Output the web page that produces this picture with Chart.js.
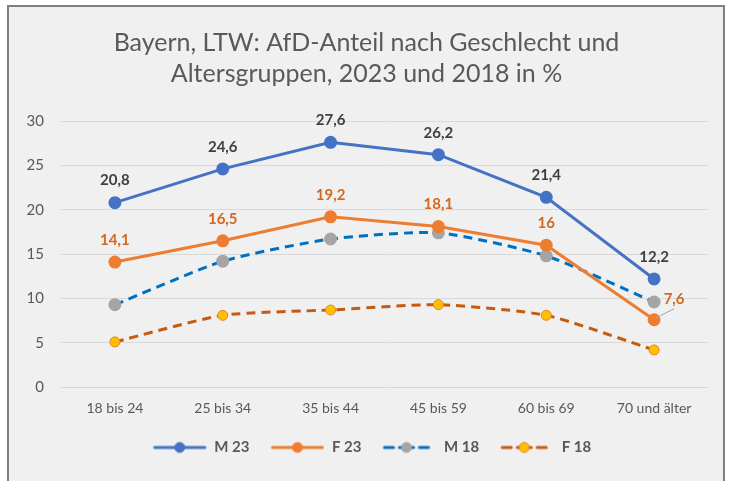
<!DOCTYPE html>
<html>
<head>
<meta charset="utf-8">
<script src="https://cdn.jsdelivr.net/npm/chart.js@4"></script>
<style>
    html, body { margin: 0; padding: 0; background: #ffffff; }
    #wrap { width: 731px; height: 481px; position: relative; }
</style>
</head>
<body>
<div id="wrap"><canvas id="chart"></canvas></div>
<script>
'use strict';

const categories = ['18 bis 24', '25 bis 34', '35 bis 44', '45 bis 59', '60 bis 69', '70 und älter'];

const m23 = [20.8, 24.6, 27.6, 26.2, 21.4, 12.2];
const f23 = [14.1, 16.5, 19.2, 18.1, 16, 7.6];
const m18 = [9.3, 14.2, 16.7, 17.4, 14.8, 9.6];
const f18 = [5.1, 8.1, 8.7, 9.3, 8.1, 4.2];

const seriesNames = ['M 23', 'F 23', 'M 18', 'F 18'];
const yTicks = [0, 5, 10, 15, 20, 25, 30];

const FONT = 'Lato, "Open Sans", sans-serif';
const GREY = '#595959';

// legend symbol box: gap on the left + line/marker part
const SYM_GAP = 11;
const SYM_W = 54;

/**
 * Small canvas with a line and a marker, used as legend symbol.
 */
function legendSymbol(lineColor, fill, border, dashed) {

    const c = document.createElement('canvas');
    c.width = SYM_GAP + SYM_W;
    c.height = 14;
    const ctx = c.getContext('2d');
    const x0 = SYM_GAP;

    ctx.strokeStyle = lineColor;
    ctx.lineWidth = 3;
    ctx.lineCap = 'round';

    let cx;

    if (dashed) {
        cx = x0 + 24;
        ctx.beginPath();
        ctx.moveTo(x0 + 2, 7); ctx.lineTo(x0 + 11, 7);
        ctx.moveTo(x0 + 17, 7); ctx.lineTo(x0 + 19, 7);
        ctx.moveTo(x0 + 29, 7); ctx.lineTo(x0 + 31, 7);
        ctx.moveTo(x0 + 37, 7); ctx.lineTo(x0 + 46, 7);
        ctx.stroke();
    } else {
        cx = x0 + 27;
        ctx.beginPath();
        ctx.moveTo(x0 + 2, 7); ctx.lineTo(x0 + 52, 7);
        ctx.stroke();
    }

    ctx.beginPath();
    ctx.arc(cx, 7, 5, 0, Math.PI * 2);
    ctx.fillStyle = fill;
    ctx.fill();
    ctx.lineWidth = 1;
    ctx.strokeStyle = border;
    ctx.stroke();

    return c;
}

const symbols = [
    legendSymbol('#4472C4', '#4472C4', '#4472C4', false),
    legendSymbol('#ED7D31', '#ED7D31', '#ED7D31', false),
    legendSymbol('#0070C0', '#A5A5A5', '#A5A5A5', true),
    legendSymbol('#C55A11', '#FFC000', '#ED7D31', true)
];

const frame = {
    id: 'frame',
    beforeDraw(chart) {
        const ctx = chart.ctx;
        ctx.save();
        ctx.fillStyle = '#ffffff';
        ctx.fillRect(0, 0, chart.width, chart.height);
        ctx.fillStyle = '#f0f0f0';
        ctx.fillRect(8, 6, 716, chart.height);
        ctx.strokeStyle = '#7f7f7f';
        ctx.lineWidth = 2;
        ctx.beginPath();
        ctx.moveTo(8, chart.height);
        ctx.lineTo(8, 6);
        ctx.lineTo(724, 6);
        ctx.lineTo(724, chart.height);
        ctx.stroke();
        ctx.restore();
    }
};

const valueLabels = {
    id: 'valueLabels',
    afterDatasetsDraw(chart) {
        const ctx = chart.ctx;
        const colors = ['#404040', '#D2691E'];
        ctx.save();
        ctx.font = 'bold 15px ' + FONT;
        ctx.textAlign = 'center';
        ctx.textBaseline = 'middle';
        [0, 1].forEach(di => {
            const meta = chart.getDatasetMeta(di);
            const values = chart.data.datasets[di].data;
            meta.data.forEach((pt, i) => {
                const text = String(values[i]).replace('.', ',');
                ctx.fillStyle = colors[di];
                if (di === 1 && i === values.length - 1) {
                    // label pushed aside with a leader line
                    ctx.strokeStyle = '#a6a6a6';
                    ctx.lineWidth = 1;
                    ctx.beginPath();
                    ctx.moveTo(pt.x + 2, pt.y - 2);
                    ctx.lineTo(pt.x + 20, pt.y - 11);
                    ctx.stroke();
                    ctx.fillText(text, pt.x + 20, pt.y - 21);
                    return;
                }
                ctx.fillText(text, pt.x, pt.y - 22);
            });
        });
        ctx.restore();
    }
};

new Chart(document.getElementById('chart'), {

    type: 'line',

    data: {

        labels: categories,

        datasets: [
            {
                label: seriesNames[0],
                data: m23,
                borderColor: '#4472C4',
                backgroundColor: '#4472C4',
                borderWidth: 3,
                pointRadius: 5,
                pointBackgroundColor: '#4472C4',
                pointBorderColor: '#4472C4',
                tension: 0
            },
            {
                label: seriesNames[1],
                data: f23,
                borderColor: '#ED7D31',
                backgroundColor: '#ED7D31',
                borderWidth: 3,
                pointRadius: 5,
                pointBackgroundColor: '#ED7D31',
                pointBorderColor: '#ED7D31',
                tension: 0
            },
            {
                label: seriesNames[2],
                data: m18,
                borderColor: '#0070C0',
                backgroundColor: '#A5A5A5',
                borderWidth: 3,
                borderDash: [9, 6],
                pointRadius: 5,
                pointBackgroundColor: '#A5A5A5',
                pointBorderColor: '#A5A5A5',
                tension: 0.2
            },
            {
                label: seriesNames[3],
                data: f18,
                borderColor: '#C55A11',
                backgroundColor: '#FFC000',
                borderWidth: 3,
                borderDash: [9, 6],
                pointRadius: 5,
                pointBackgroundColor: '#FFC000',
                pointBorderColor: '#ED7D31',
                pointBorderWidth: 1,
                tension: 0.2
            }
        ]

    },

    options: {

        responsive: true,
        maintainAspectRatio: false,
        animation: false,
        devicePixelRatio: 1,

        layout: {
            padding: { left: 25, right: 23, top: 0, bottom: 16 }
        },

        plugins: {

            title: {
                display: true,
                text: ['Bayern, LTW: AfD-Anteil nach Geschlecht und', 'Altersgruppen, 2023 und 2018 in %'],
                color: GREY,
                font: { family: FONT, size: 25, weight: 'normal', lineHeight: 1.24 },
                padding: { top: 27, bottom: 32 }
            },

            legend: {
                position: 'bottom',
                labels: {
                    color: GREY,
                    font: { family: FONT, size: 15, weight: 'bold' },
                    usePointStyle: true,
                    pointStyleWidth: SYM_GAP + SYM_W,
                    padding: 10,
                    generateLabels(chart) {
                        return chart.data.datasets.map((ds, i) => ({
                            text: ds.label,
                            pointStyle: symbols[i],
                            fillStyle: 'transparent',
                            strokeStyle: 'transparent',
                            lineWidth: 0,
                            fontColor: GREY,
                            datasetIndex: i,
                            hidden: false
                        }));
                    }
                }
            },

            tooltip: { enabled: false }

        },

        scales: {

            x: {
                offset: true,
                grid: { display: false, drawTicks: false },
                border: { display: false },
                ticks: {
                    color: GREY,
                    font: { family: FONT, size: 14 },
                    padding: 13,
                    maxRotation: 0
                }
            },

            y: {
                min: yTicks[0],
                max: yTicks[yTicks.length - 1],
                afterFit(scale) { scale.width = 36; },
                afterBuildTicks(scale) { scale.ticks = yTicks.map(v => ({ value: v })); },
                grid: { color: '#d9d9d9', lineWidth: 1, drawTicks: false },
                border: { display: false },
                ticks: {
                    color: GREY,
                    font: { family: FONT, size: 15 },
                    padding: 17
                }
            }

        }

    },

    plugins: [frame, valueLabels]

});
</script>
</body>
</html>
